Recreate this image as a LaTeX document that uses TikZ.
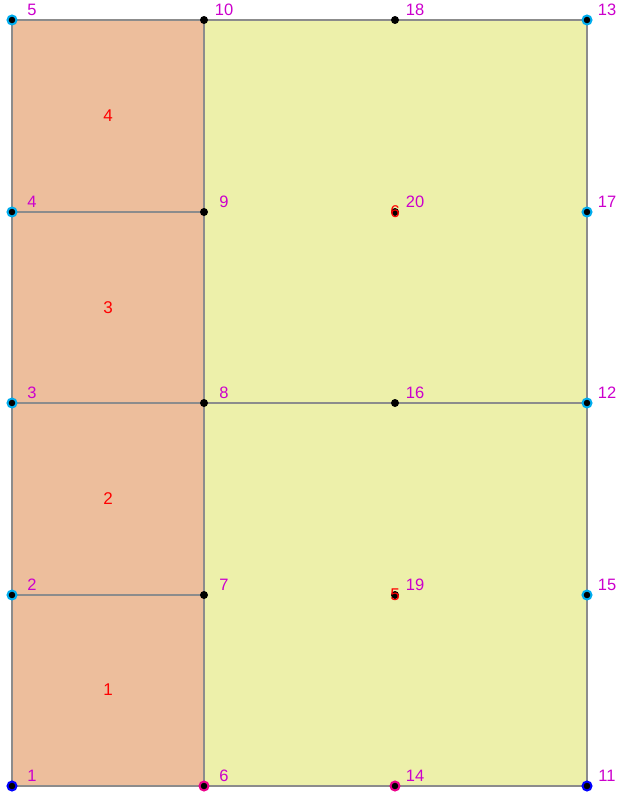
\documentclass[tikz,border=0pt]{standalone}
\usepackage{fontspec}
\setmainfont{Liberation Sans}
\definecolor{labmag}{RGB}{204,0,204}
\definecolor{leftfill}{RGB}{237,190,156}
\definecolor{rightfill}{RGB}{237,240,170}
\definecolor{edgegray}{RGB}{140,140,140}
\begin{document}
\begin{tikzpicture}[x=1pt,y=-1pt,
        dot/.style={circle,fill=black,inner sep=0pt,minimum size=8pt},
        dotc/.style={dot,draw=cyan,line width=2pt,minimum size=9pt},
        dotb/.style={dot,draw=blue,line width=2pt,minimum size=9pt},
        dotm/.style={dot,draw=magenta,line width=2pt,minimum size=9pt},
        edge/.style={draw=edgegray,line width=1.4pt},
        lab/.style={text=labmag,font=\fontsize{16.5}{16.5}\selectfont,anchor=south,inner sep=0pt},
        elem/.style={text=red,font=\fontsize{17}{17}\selectfont,inner sep=0pt}]
        \useasboundingbox (0,0) rectangle (619,800);
        % points of the mesh
        \foreach \n/\x/\y in {1/12/786,2/12/595,3/12/403,4/12/212,5/12/20,
                6/204/786,7/204/595,8/204/403,9/204/212,10/204/20,
                11/587/786,12/587/403,13/587/20,14/395/786,15/587/595,
                16/395/403,17/587/212,18/395/20,19/395/595,20/395/212}
                \coordinate (p\n) at (\x,\y);
        % cells
        \fill[leftfill] (p5) rectangle (p6);
        \fill[rightfill] (p10) rectangle (p11);
        \draw[edge] (p5) -- (p13) -- (p11) -- (p1) -- cycle;
        \draw[edge] (p10) -- (p6);
        \draw[edge] (p4) -- (p9);
        \draw[edge] (p3) -- (p12);
        \draw[edge] (p2) -- (p7);
        % nodes and their numbers
        \foreach \n/\s in {1/dotb,2/dotc,3/dotc,4/dotc,5/dotc,6/dotm,7/dot,8/dot,9/dot,10/dot,
                11/dotb,12/dotc,13/dotc,14/dotm,15/dotc,16/dot,17/dotc,18/dot,19/dot,20/dot}
        {
                \node[\s] (n\n) at (p\n) {};
                \node[lab] (l\n) at ([shift={(20,-4)}]p\n) {\n};
        }
        % element numbers
        \node[elem] (e1) at (108,690) {1};
        \node[elem] (e2) at (108,499) {2};
        \node[elem] (e3) at (108,308) {3};
        \node[elem] (e4) at (108,116) {4};
        \node[elem] (e5) at (p19) {5};
        \node[elem] (e6) at (p20) {6};
\end{tikzpicture}
\end{document}
